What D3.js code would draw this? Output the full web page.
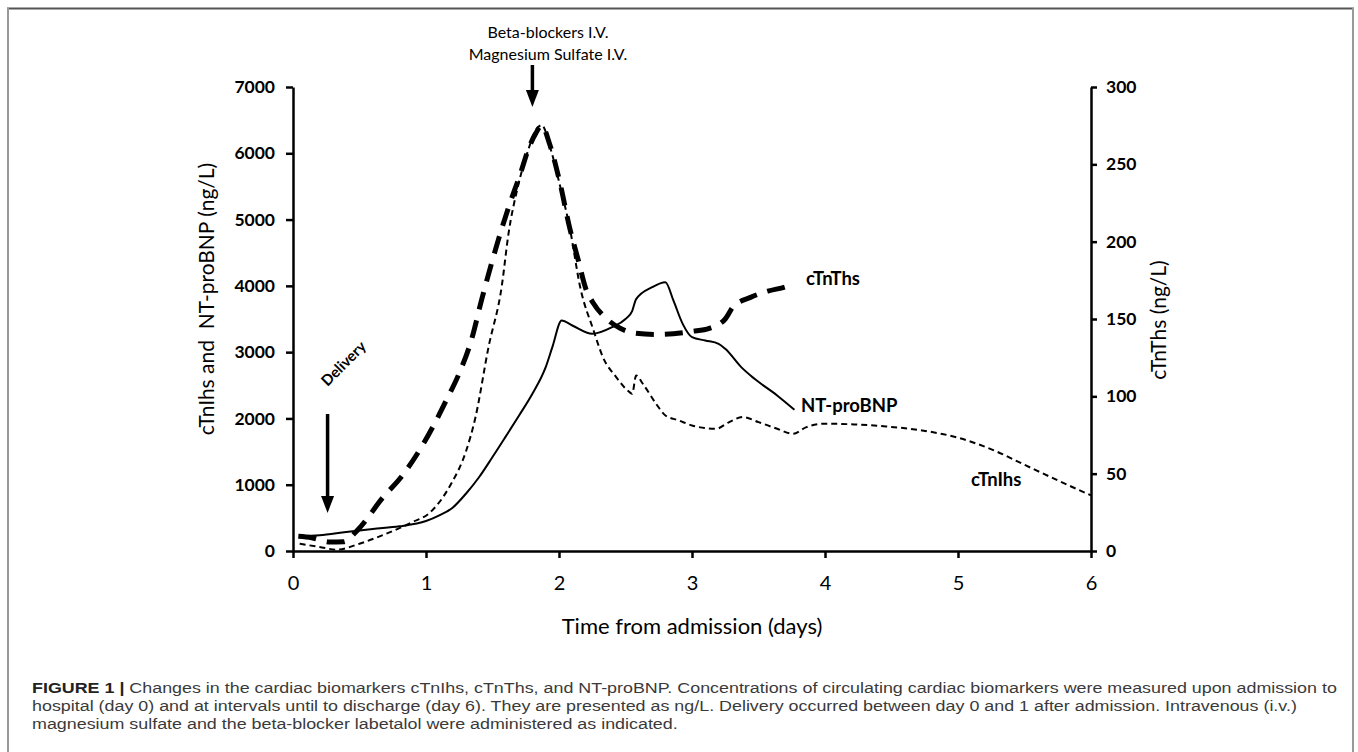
<!DOCTYPE html>
<html>
<head>
<meta charset="utf-8">
<script src="https://cdn.jsdelivr.net/npm/d3@7"></script>
<style>
  html, body { margin: 0; padding: 0; background: #fff; }
  svg { display: block; }
</style>
</head>
<body>
<svg id="chart" width="1358" height="752"></svg>
<script>
// ---------------- data ----------------
const xTicks = [0, 1, 2, 3, 4, 5, 6];
const leftTicks = [0, 1000, 2000, 3000, 4000, 5000, 6000, 7000];
const rightTicks = [0, 50, 100, 150, 200, 250, 300];

// NT-proBNP (left axis, ng/L)
const ntDays = [0.05,0.2,0.4,0.6,0.8,1.0,1.1,1.2,1.3,1.4,1.5,1.6,1.7,1.8,1.9,1.95,2.02,2.1,2.25,2.4,2.5,2.55,2.58,2.7,2.8,2.86,2.93,3.0,3.1,3.2,3.25,3.37,3.47,3.64,3.77];
const ntValues = [221,236,286,332,372,452,538,653,864,1116,1417,1729,2045,2372,2774,3075,3477,3402,3276,3377,3500,3620,3800,3980,4055,3780,3427,3226,3176,3126,3050,2774,2598,2347,2131];

// cTnIhs (left axis, ng/L)
const tniDays = [0.05,0.2,0.33,0.5,0.7,0.9,1.02,1.185,1.3,1.37,1.47,1.57,1.62,1.69,1.76,1.825,1.87,1.94,2.01,2.08,2.16,2.26,2.33,2.43,2.53,2.55,2.58,2.63,2.73,2.8,2.9,3.0,3.18,3.28,3.38,3.5,3.64,3.76,3.86,4.0,4.22,4.46,4.73,5.0,5.27,5.51,5.75,6.0];
const tniValues = [110,60,20,110,260,437,563,1000,1500,2000,3075,4000,4783,5490,5995,6348,6424,6045,5490,4884,3975,3327,2925,2623,2397,2372,2648,2523,2221,2045,1970,1894,1844,1945,2020,1945,1844,1769,1869,1920,1910,1879,1819,1709,1518,1291,1065,839];

// cTnThs (right axis, ng/L)
const tntDays = [0.04,0.14,0.28,0.38,0.48,0.68,0.815,0.95,1.05,1.15,1.25,1.34,1.42,1.54,1.62,1.71,1.775,1.825,1.87,1.93,2.01,2.08,2.145,2.2,2.26,2.36,2.46,2.56,2.73,2.86,3.0,3.13,3.25,3.31,3.44,3.57,3.71,3.77];
const tntValues = [9.5,8.6,5.8,6,13,35,48,65,80,97,115,136,163,200,222,244,261,270,275,263,237,209,188,170,160,150,144,141,140,140.5,142,144,150,158,164,168,171,173];

const seriesLabels = ["NT-proBNP", "cTnIhs", "cTnThs"];
const leftTitle = "cTnIhs and\u00a0\u00a0NT-proBNP (ng/L)";
const rightTitle = "cTnThs (ng/L)";
const xTitle = "Time from admission (days)";
const annotTop = ["Beta-blockers I.V.", "Magnesium Sulfate I.V."];
const annotTopDay = 1.8;
const annotDelivery = "Delivery";
const deliveryDay = 0.26;
const captionBold = "FIGURE 1 | ";
const captionLines = [
  "Changes in the cardiac biomarkers cTnIhs, cTnThs, and NT-proBNP. Concentrations of circulating cardiac biomarkers were measured upon admission to",
  "hospital (day 0) and at intervals until to discharge (day 6). They are presented as ng/L. Delivery occurred between day 0 and 1 after admission. Intravenous (i.v.)",
  "magnesium sulfate and the beta-blocker labetalol were administered as indicated."
];

// ---------------- drawing ----------------
const svg = d3.select("#chart");
const chartFont = "Lato, 'Open Sans', sans-serif";
const capFont = "'Liberation Sans', Arial, sans-serif";

svg.append("rect").attr("width", 1358).attr("height", 752).attr("fill", "#fff");

// frame
svg.append("line").attr("x1", 7).attr("x2", 1354).attr("y1", 8.5).attr("y2", 8.5)
  .attr("stroke", "#555").attr("stroke-width", 2);
svg.append("line").attr("x1", 8).attr("x2", 8).attr("y1", 8).attr("y2", 752)
  .attr("stroke", "#999").attr("stroke-width", 2);
svg.append("line").attr("x1", 1353).attr("x2", 1353).attr("y1", 8).attr("y2", 752)
  .attr("stroke", "#999").attr("stroke-width", 2);

const x = d3.scaleLinear().domain([0, 6]).range([293, 1091]);
const yL = d3.scaleLinear().domain([0, 7000]).range([551, 87]);
const yR = d3.scaleLinear().domain([0, 300]).range([551, 87]);

// axes
const gx = svg.append("g").attr("transform", "translate(0,551)")
  .call(d3.axisBottom(x).tickValues(xTicks).tickSize(7).tickSizeOuter(0).tickFormat(d3.format("d")));
gx.selectAll("text").attr("y", 32).attr("dy", "0.35em")
  .style("font-family", chartFont).style("font-size", "20px").attr("fill", "#000");

const gl = svg.append("g").attr("transform", "translate(293,0)")
  .call(d3.axisLeft(yL).tickValues(leftTicks).tickSize(7).tickSizeOuter(0).tickPadding(11).tickFormat(d3.format("d")));
gl.selectAll("text").style("font-family", chartFont).style("font-size", "17.5px")
  .style("font-weight", "bold").attr("fill", "#000");

const gr = svg.append("g").attr("transform", "translate(1091,0)")
  .call(d3.axisRight(yR).tickValues(rightTicks).tickSize(6).tickSizeOuter(0).tickPadding(9).tickFormat(d3.format("d")));
gr.selectAll("text").style("font-family", chartFont).style("font-size", "17.5px")
  .style("font-weight", "bold").attr("fill", "#000");

[gx, gl, gr].forEach(g => {
  g.select(".domain").attr("stroke", "#000").attr("stroke-width", 2.5);
  g.selectAll(".tick line").attr("stroke", "#000").attr("stroke-width", 2.5);
});

// axis titles
svg.append("text").attr("transform", "translate(205,299) rotate(-90)")
  .attr("text-anchor", "middle").attr("dominant-baseline", "central")
  .style("font-family", chartFont).style("font-size", "21px").text(leftTitle);
svg.append("text").attr("transform", "translate(1157,320) rotate(-90)")
  .attr("text-anchor", "middle").attr("dominant-baseline", "central")
  .style("font-family", chartFont).style("font-size", "21px").text(rightTitle);
svg.append("text").attr("x", 692).attr("y", 625)
  .attr("text-anchor", "middle").attr("dominant-baseline", "central")
  .style("font-family", chartFont).style("font-size", "22px").text(xTitle);

// lines
const lineL = d3.line().x(d => x(d[0])).y(d => yL(d[1])).curve(d3.curveMonotoneX);
const lineR = d3.line().x(d => x(d[0])).y(d => yR(d[1])).curve(d3.curveMonotoneX);

svg.append("path").datum(d3.zip(tniDays, tniValues)).attr("d", lineL)
  .attr("fill", "none").attr("stroke", "#000").attr("stroke-width", 2)
  .attr("stroke-dasharray", "6,4");
svg.append("path").datum(d3.zip(ntDays, ntValues)).attr("d", lineL)
  .attr("fill", "none").attr("stroke", "#000").attr("stroke-width", 2);
svg.append("path").datum(d3.zip(tntDays, tntValues)).attr("d", lineR)
  .attr("fill", "none").attr("stroke", "#000").attr("stroke-width", 5)
  .attr("stroke-dasharray", "18,11");

// series labels
const labelStyle = s => s.style("font-family", chartFont).style("font-size", "18.5px")
  .style("font-weight", "bold").attr("dominant-baseline", "central");
svg.append("text").attr("x", 801).attr("y", 405).text(seriesLabels[0]).call(labelStyle);
svg.append("text").attr("x", 971).attr("y", 479).text(seriesLabels[1]).call(labelStyle);
svg.append("text").attr("x", 806).attr("y", 278).text(seriesLabels[2]).call(labelStyle);

// arrows
function arrow(xp, y1, y2) {
  svg.append("line").attr("x1", xp).attr("x2", xp).attr("y1", y1).attr("y2", y2 - 14)
    .attr("stroke", "#000").attr("stroke-width", 3.5);
  svg.append("path")
    .attr("d", `M${xp - 6.5},${y2 - 17} L${xp + 6.5},${y2 - 17} L${xp},${y2} Z`)
    .attr("fill", "#000");
}
arrow(x(annotTopDay), 65, 107);
arrow(x(deliveryDay), 414, 513);

svg.append("text").attr("x", 548).attr("y", 31).attr("text-anchor", "middle")
  .attr("dominant-baseline", "central").style("font-family", chartFont)
  .style("font-size", "16px").text(annotTop[0]);
svg.append("text").attr("x", 548).attr("y", 53).attr("text-anchor", "middle")
  .attr("dominant-baseline", "central").style("font-family", chartFont)
  .style("font-size", "16px").text(annotTop[1]);
svg.append("text").attr("transform", "translate(343,363) rotate(-45)")
  .attr("text-anchor", "middle").attr("dominant-baseline", "central")
  .style("font-family", chartFont).style("font-size", "15px").style("font-weight", "bold")
  .text(annotDelivery);

// caption (slightly wide type, as in the reference)
const capG = svg.append("g");
const capYs = [688, 706, 724];
const capTexts = captionLines.map((t, i) => {
  const tx = capG.append("text").attr("x", 0).attr("y", capYs[i])
    .attr("dominant-baseline", "central")
    .style("font-family", capFont).style("font-size", "14px").attr("fill", "#3a3a3a");
  if (i === 0) {
    tx.append("tspan").style("font-weight", "bold").attr("fill", "#222").text(captionBold);
  }
  tx.append("tspan").text(t);
  return tx;
});
const len0 = capTexts[0].node().getComputedTextLength();
const sx = 1306 / len0;
capG.attr("transform", `translate(32,0) scale(${sx},1)`);
</script>
</body>
</html>
